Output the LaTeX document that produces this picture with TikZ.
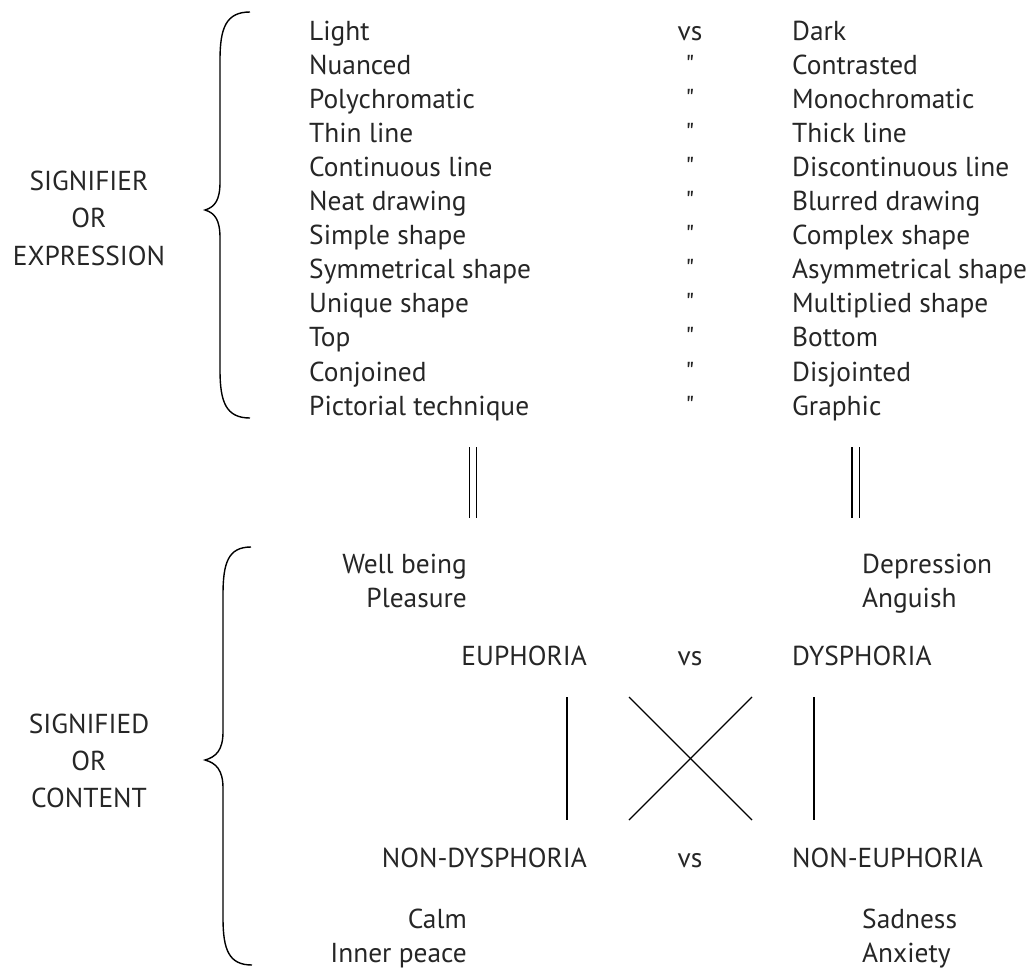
\documentclass[tikz,border=0pt]{standalone}
\usepackage{fontspec}
\setmainfont{PT Sans}
\newfontfamily\dittofont[Ligatures=TeXOff]{PT Sans}
\usetikzlibrary{positioning}

\begin{document}
\begin{tikzpicture}[x=1pt, y=-1pt, node distance=8.7pt]
\tikzstyle{term}=[inner sep=0pt, text height=20pt, text depth=5pt, text=black!85,
font=\fontsize{27.4}{32}\selectfont]
\tikzstyle{ditto}=[term, font=\fontsize{27.4}{32}\selectfont\dittofont]
\tikzstyle{brace}=[line width=1.4pt, black]
\tikzstyle{bar}=[line width=1.2pt, black]
\tikzstyle{equal}=[line width=1.2pt, double, double distance=6pt]

\useasboundingbox (0,0) rectangle (1033,969);

% expression, left column
\node (light) [term, anchor=base west] at (309,40) {Light};
\node (nuanced) [term, below=of light.south west, anchor=north west] {Nuanced};
\node (poly) [term, below=of nuanced.south west, anchor=north west] {Polychromatic};
\node (thin) [term, below=of poly.south west, anchor=north west] {Thin line};
\node (cont) [term, below=of thin.south west, anchor=north west] {Continuous line};
\node (neat) [term, below=of cont.south west, anchor=north west] {Neat drawing};
\node (simple) [term, below=of neat.south west, anchor=north west] {Simple shape};
\node (sym) [term, below=of simple.south west, anchor=north west] {Symmetrical shape};
\node (unique) [term, below=of sym.south west, anchor=north west] {Unique shape};
\node (top) [term, below=of unique.south west, anchor=north west] {Top};
\node (conj) [term, below=of top.south west, anchor=north west] {Conjoined};
\node (pict) [term, below=of conj.south west, anchor=north west] {Pictorial technique};

% vs and ditto marks
\node (vs1) [term, anchor=base] at (690,40) {vs};
\node (q2) [ditto, below=of vs1] {"};
\node (q3) [ditto, below=of q2] {"};
\node (q4) [ditto, below=of q3] {"};
\node (q5) [ditto, below=of q4] {"};
\node (q6) [ditto, below=of q5] {"};
\node (q7) [ditto, below=of q6] {"};
\node (q8) [ditto, below=of q7] {"};
\node (q9) [ditto, below=of q8] {"};
\node (q10) [ditto, below=of q9] {"};
\node (q11) [ditto, below=of q10] {"};
\node (q12) [ditto, below=of q11] {"};

% expression, right column
\node (dark) [term, anchor=base west] at (792,40) {Dark};
\node (contr) [term, below=of dark.south west, anchor=north west] {Contrasted};
\node (mono) [term, below=of contr.south west, anchor=north west] {Monochromatic};
\node (thick) [term, below=of mono.south west, anchor=north west] {Thick line};
\node (discont) [term, below=of thick.south west, anchor=north west] {Discontinuous line};
\node (blur) [term, below=of discont.south west, anchor=north west] {Blurred drawing};
\node (complex) [term, below=of blur.south west, anchor=north west] {Complex shape};
\node (asym) [term, below=of complex.south west, anchor=north west] {Asymmetrical shape};
\node (multi) [term, below=of asym.south west, anchor=north west] {Multiplied shape};
\node (bottom) [term, below=of multi.south west, anchor=north west] {Bottom};
\node (disj) [term, below=of bottom.south west, anchor=north west] {Disjointed};
\node (graphic) [term, below=of disj.south west, anchor=north west] {Graphic};

% side labels
\node (signifier) [term, anchor=base] at (89,190) {SIGNIFIER};
\node (or1) [term, below=12.5pt of signifier] {OR};
\node (expression) [term, below=12.5pt of or1] {EXPRESSION};

\node (signified) [term, anchor=base] at (89,733) {SIGNIFIED};
\node (or2) [term, below=12pt of signified] {OR};
\node (content) [term, below=12pt of or2] {CONTENT};

% braces
\draw[brace] (250,12) .. controls (226,12) and (220,28) .. (220,60) -- (220,182)
  .. controls (220,200) and (215,207) .. (205,210)
  .. controls (215,213) and (220,220) .. (220,238) -- (220,370)
  .. controls (220,402) and (226,418) .. (250,418);
\draw[brace] (251,547) .. controls (228,547) and (223,563) .. (223,595) -- (223,732)
  .. controls (223,750) and (216,757) .. (205,760)
  .. controls (216,763) and (223,770) .. (223,788) -- (223,918)
  .. controls (223,950) and (229,965) .. (252,965);

% equivalence
\coordinate (eqL1) at (473,447);
\coordinate (eqL2) at (473,518);
\coordinate (eqR1) at (855.5,447);
\coordinate (eqR2) at (855.5,518);
\draw[equal] (eqL1) -- (eqL2);
\draw[equal] (eqR1) -- (eqR2);

% content, square
\node (wellbeing) [term, anchor=base east] at (467,573) {Well being};
\node (pleasure) [term, below=of wellbeing.south east, anchor=north east] {Pleasure};
\node (depression) [term, anchor=base west] at (862,573) {Depression};
\node (anguish) [term, below=of depression.south west, anchor=north west] {Anguish};

\node (euphoria) [term, anchor=base east] at (587,665) {EUPHORIA};
\node (vs2) [term, anchor=base] at (690,665) {vs};
\node (dysphoria) [term, anchor=base west] at (792,665) {DYSPHORIA};

\node (nondys) [term, anchor=base east] at (587,867) {NON-DYSPHORIA};
\node (vs3) [term, anchor=base] at (690,867) {vs};
\node (noneu) [term, anchor=base west] at (792,867) {NON-EUPHORIA};

\node (calm) [term, anchor=base east] at (467,928) {Calm};
\node (inner) [term, below=of calm.south east, anchor=north east] {Inner peace};
\node (sadness) [term, anchor=base west] at (862,928) {Sadness};
\node (anxiety) [term, below=of sadness.south west, anchor=north west] {Anxiety};

% relations
\coordinate (impL1) at (567,697);
\coordinate (impL2) at (567,820);
\coordinate (impR1) at (814,697);
\coordinate (impR2) at (814,820);
\coordinate (crossTL) at (629,697);
\coordinate (crossTR) at (752,697);
\coordinate (crossBL) at (629,820);
\coordinate (crossBR) at (752,820);
\draw[bar] (impL1) -- (impL2);
\draw[bar] (impR1) -- (impR2);
\draw[bar] (crossTL) -- (crossBR);
\draw[bar] (crossTR) -- (crossBL);

\end{tikzpicture}
\end{document}
